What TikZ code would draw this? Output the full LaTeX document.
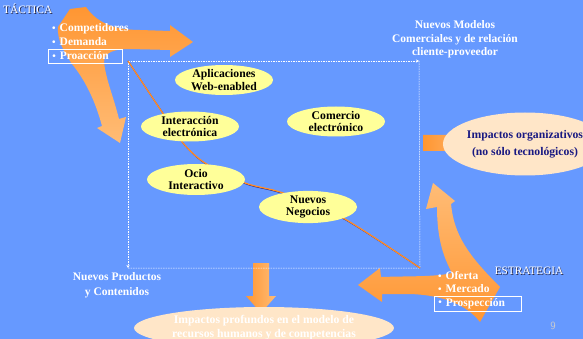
\documentclass[tikz,border=0pt]{standalone}
\usepackage{fontspec}
\setmainfont{Liberation Serif}
\usetikzlibrary{arrows.meta,shapes.geometric}
\definecolor{bg}{RGB}{102,153,255}
\definecolor{orA}{RGB}{255,150,50}
\definecolor{orB}{RGB}{255,188,118}
\definecolor{yel}{RGB}{255,255,153}
\definecolor{peach}{RGB}{255,230,200}
\definecolor{navy}{RGB}{25,25,130}
\definecolor{shadowc}{RGB}{40,40,70}
\definecolor{linec}{RGB}{255,140,40}
\tikzset{
  txt/.style={font=\fontsize{11.5}{13.5}\selectfont\bfseries, text=white, inner sep=0pt, align=center},
  bul/.style={font=\fontsize{11.5}{13}\selectfont\bfseries, text=white, inner sep=0pt, anchor=west, align=left},
  bulbox/.style={bul, draw=white, line width=0.6pt, inner xsep=4pt, inner ysep=0pt, minimum height=14pt},
  bubble/.style={ellipse, fill=yel, inner sep=0pt, minimum width=98pt, minimum height=30pt,
     font=\fontsize{11.7}{12.5}\selectfont\bfseries, align=center},
  axisline/.style={white, line width=0.5pt, dash pattern=on 1.5pt off 1pt},
  head/.style={font=\fontsize{11.3}{13}\selectfont, inner sep=0pt}
}
\newcommand{\bl}{{\fontsize{10}{10}\selectfont\raisebox{0.3pt}{•}}\hspace{4pt}}
\begin{document}
\begin{tikzpicture}[x=1pt,y=-1pt]
\useasboundingbox (0,0) rectangle (583,339);
\fill[bg] (0,0) rectangle (583,339);

% top-left split arrow
\shade[top color=orA, bottom color=orB]
  (58,27) -- (70,9) -- (86,7) .. controls (95,20) and (110,30) .. (140,30) -- (170,31) -- (170,25) -- (193,42)
  -- (170,57) -- (170,50) -- (130,49) .. controls (115,49) and (104,52) .. (104,62)
  .. controls (106,80) and (113,95) .. (119,119) -- (126,117) -- (120,143) -- (97,128) -- (102,126)
  .. controls (95,100) and (85,80) .. (72,64) .. controls (64,52) and (57,40) .. (58,27) -- cycle;

% bottom-right split arrow
\shade[top color=orB, bottom color=orA]
  (358,285) -- (380,268) -- (381,277) .. controls (410,276) and (435,277) .. (452,273)
  .. controls (444,258) and (437,240) .. (437,207) -- (426,209) -- (433,183) -- (455,201) -- (451,204)
  .. controls (454,235) and (468,255) .. (500,287) -- (480,322)
  .. controls (465,303) and (440,295) .. (410,294) -- (382,294) -- (382,302) -- cycle;

% arrow to organisational impacts
\shade[left color=orA, right color=orB]
  (423,135) -- (453,135) -- (453,128) -- (476,143) -- (453,158) -- (453,151) -- (423,151) -- cycle;
% arrow down to HR impacts
\shade[left color=orA, right color=orB]
  (253,263) -- (269,263) -- (269,296) -- (276,296) -- (261,313) -- (246,296) -- (253,296) -- cycle;

% axes frame
\coordinate (o) at (128,61);
\coordinate (xe) at (419,61);
\coordinate (ye) at (128,268);
\coordinate (br) at (420,268);
\draw[axisline, -{Stealth[length=3pt,width=3pt]}] (o) -- (xe);
\draw[axisline, -{Stealth[length=3pt,width=3pt]}] (o) -- (ye);
\draw[axisline] (ye) -- (br) -- (xe);

% diagonal curve
\draw[navy, line width=0.9pt, shift={(0.6,0.8)}] plot[smooth, tension=0.5] coordinates
  {(o) (162,112) (183,143) (205,163) (245,183) (283,193) (343,218) (br)};
\draw[linec, line width=1.3pt] plot[smooth, tension=0.5] coordinates
  {(o) (162,112) (183,143) (205,163) (245,183) (283,193) (343,218) (br)};

% bubbles
\node[bubble] (web) at (224,80) {Aplicaciones\\Web-enabled};
\node[bubble] (inter) at (190,126.5) {Interacción\\electrónica};
\node[bubble] (com) at (336,121.5) {Comercio\\electrónico};
\node[bubble, minimum height=31pt] (ocio) at (196,179.5) {Ocio\\Interactivo};
\node[bubble] (neg) at (308,207) {Nuevos\\Negocios};

% organisational impacts
\node[ellipse, fill=peach, inner sep=0pt, minimum width=130pt, minimum height=63pt,
  font=\fontsize{11.7}{17.5}\selectfont\bfseries, text=navy, align=center] (org) at (525,144)
  {Impactos organizativos\\(no sólo tecnológicos)};

% HR impacts
\node[ellipse, fill=peach, inner sep=0pt, minimum width=234pt, minimum height=42pt,
  font=\fontsize{11.7}{14}\selectfont\bfseries, text=white, align=center] (hr) at (264,328)
  {Impactos profundos en el modelo de\\recursos humanos y de competencias};

% labels
\node[head, text=shadowc, anchor=west] at (3.8,9.8) {TÁCTICA};
\node[head, text=white, anchor=west] (tac) at (3,9) {TÁCTICA};
\node[head, text=shadowc] at (529.8,271.8) {ESTRATEGIA};
\node[head, text=white] (est) at (529,271) {ESTRATEGIA};

\node[bul] (l1) at (52,29) {\bl Competidores};
\node[bul] (l2) at (52,42) {\bl Demanda};
\node[bulbox, text width=66pt, anchor=west] (l3) at (48,56) {\bl Proacción};

\node[bul] (r1) at (438,276) {\bl Oferta};
\node[bul] (r2) at (438,289) {\bl Mercado};
\node[bulbox, text width=79pt, minimum height=15pt, anchor=west] (r3) at (434,303.5) {\bl Prospección};

\node[txt] (mod) at (455,39.5) {Nuevos Modelos\\Comerciales y de relación\\cliente-proveedor};
\node[txt, font=\fontsize{11.5}{15}\selectfont\bfseries] (prod) at (117,285.5) {Nuevos Productos\\y Contenidos};

\node[font=\sffamily\fontsize{11}{11}\selectfont, text=black!20, inner sep=0pt] (num) at (553,326) {9};
\end{tikzpicture}
\end{document}
